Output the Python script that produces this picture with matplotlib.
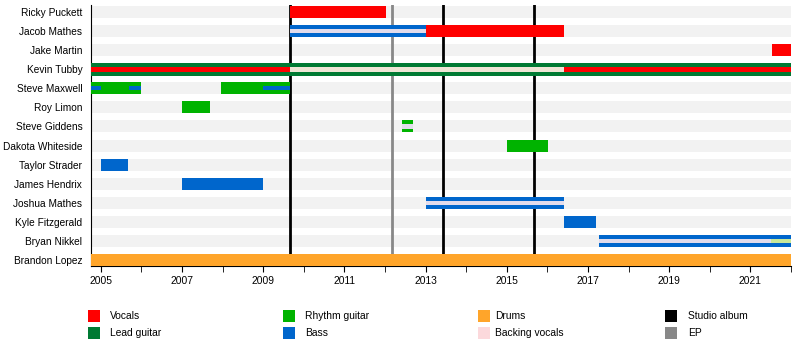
import matplotlib.pyplot as plt
from matplotlib.patches import Rectangle
from matplotlib.ticker import MultipleLocator

plt.rcParams['font.family'] = ['Liberation Sans', 'DejaVu Sans']

# 成員 (由上到下)
members = ["Ricky Puckett", "Jacob Mathes", "Jake Martin", "Kevin Tubby",
           "Steve Maxwell", "Roy Limon", "Steve Giddens", "Dakota Whiteside",
           "Taylor Strader", "James Hendrix", "Joshua Mathes", "Kyle Fitzgerald",
           "Bryan Nikkel", "Brandon Lopez"]

# 主要角色長條: 成員, 開始, 結束, 角色
bar_member = ["Ricky Puckett", "Jacob Mathes", "Jacob Mathes", "Jake Martin",
              "Kevin Tubby", "Steve Maxwell", "Steve Maxwell", "Roy Limon",
              "Steve Giddens", "Dakota Whiteside", "Taylor Strader", "James Hendrix",
              "Joshua Mathes", "Kyle Fitzgerald", "Bryan Nikkel", "Brandon Lopez"]
bar_start = [2009.65, 2009.65, 2013.0, 2021.52,
             2004.75, 2004.75, 2007.97, 2007.0,
             2012.42, 2015.0, 2005.0, 2007.0,
             2013.0, 2016.42, 2017.26, 2004.75]
bar_end = [2012.02, 2013.0, 2016.4, 2022.0,
           2022.0, 2006.0, 2009.65, 2007.68,
           2012.69, 2016.02, 2005.67, 2009.0,
           2016.4, 2017.2, 2022.0, 2022.0]
bar_role = ["Vocals", "Bass", "Vocals", "Vocals",
            "Lead guitar", "Rhythm guitar", "Rhythm guitar", "Rhythm guitar",
            "Rhythm guitar", "Rhythm guitar", "Bass", "Bass",
            "Bass", "Bass", "Bass", "Drums"]

# 次要角色細條
stripe_member = ["Jacob Mathes", "Kevin Tubby", "Kevin Tubby", "Kevin Tubby",
                 "Steve Maxwell", "Steve Maxwell", "Steve Maxwell", "Steve Giddens",
                 "Joshua Mathes", "Bryan Nikkel", "Bryan Nikkel"]
stripe_start = [2009.65, 2004.75, 2009.65, 2016.4,
                2004.75, 2005.7, 2009.0, 2012.42,
                2013.0, 2017.26, 2021.5]
stripe_end = [2013.0, 2009.65, 2016.4, 2022.0,
              2005.0, 2006.0, 2009.65, 2012.69,
              2016.4, 2021.5, 2022.0]
stripe_role = ["Backing vocals", "Vocals", "Backing vocals", "Vocals",
               "Bass", "Bass", "Bass", "Backing vocals",
               "Backing vocals", "Backing vocals", "Rhythm guitar"]

studio_albums = [2009.65, 2013.43, 2015.68]
eps = [2012.17]

colors = {
    "Vocals": "#ff0000",
    "Lead guitar": "#007a33",
    "Rhythm guitar": "#00b300",
    "Bass": "#0066cc",
    "Drums": "#ffa52a",
    "Backing vocals": "#fcd9dc",
    "Studio album": "#000000",
    "EP": "#888888",
}
stripe_colors = dict(colors)
stripe_colors["Backing vocals"] = "#e2dcec"
stripe_colors["Rhythm guitar"] = "#c8e89a"

# 圖例 (依欄排列)
legend_labels = ["Vocals", "Lead guitar", "Rhythm guitar", "Bass",
                 "Drums", "Backing vocals", "Studio album", "EP"]

x_min, x_max = 2004.75, 2022.0
W, H = 800, 355

fig = plt.figure(figsize=(8, 3.55), dpi=100)
ax = fig.add_axes([90.7 / W, 1 - 266 / H, (791 - 90.7) / W, (266 - 5) / H])

ypos = {m: i for i, m in enumerate(members)}
bar_h = 0.63

# 背景灰條
for m in members:
    ax.barh(ypos[m], x_max - x_min, left=x_min, height=bar_h, color="#f2f2f2", zorder=1)

# 專輯線
for x in studio_albums:
    ax.axvline(x, color=colors["Studio album"], linewidth=2, zorder=2)
for x in eps:
    ax.axvline(x, color=colors["EP"], linewidth=2, zorder=2)

for m, s, e, r in zip(bar_member, bar_start, bar_end, bar_role):
    h = 0.7 if m == "Kevin Tubby" else bar_h
    ax.barh(ypos[m], e - s, left=s, height=h, color=colors[r], zorder=3)

for m, s, e, r in zip(stripe_member, stripe_start, stripe_end, stripe_role):
    h = 0.28 if m == "Kevin Tubby" else 0.22
    c = stripe_colors[r]
    if m == "Kevin Tubby" and r == "Backing vocals":
        c = "#efe6d6"
    ax.barh(ypos[m], e - s, left=s, height=h, color=c, zorder=4)

ax.set_xlim(x_min, x_max)
ax.set_ylim(len(members) - 1 + 0.32, -0.37)
ax.set_yticks(range(len(members)))
ax.set_yticklabels(members, fontsize=7.3)
ax.tick_params(axis='y', length=0, pad=6)

ax.xaxis.set_major_locator(MultipleLocator(2, offset=1))
ax.xaxis.set_minor_locator(MultipleLocator(1))
ax.tick_params(axis='x', which='both', length=4, labelsize=7.4, pad=3)

for side in ["top", "right"]:
    ax.spines[side].set_visible(False)

# 手動繪製圖例
col_patch_x = [88, 283, 478, 665]
col_text_x = [110, 305, 495, 688]
row_y = [316, 333]
for i, lab in enumerate(legend_labels):
    c, r = divmod(i, 2)
    px, py = col_patch_x[c], row_y[r]
    fig.add_artist(Rectangle((px / W, 1 - (py + 6) / H), 12 / W, 12 / H,
                             transform=fig.transFigure, facecolor=colors[lab],
                             edgecolor="none"))
    fig.text(col_text_x[c] / W, 1 - py / H, lab, fontsize=7.4, va="center", ha="left")

plt.savefig("out.png", dpi=100)
